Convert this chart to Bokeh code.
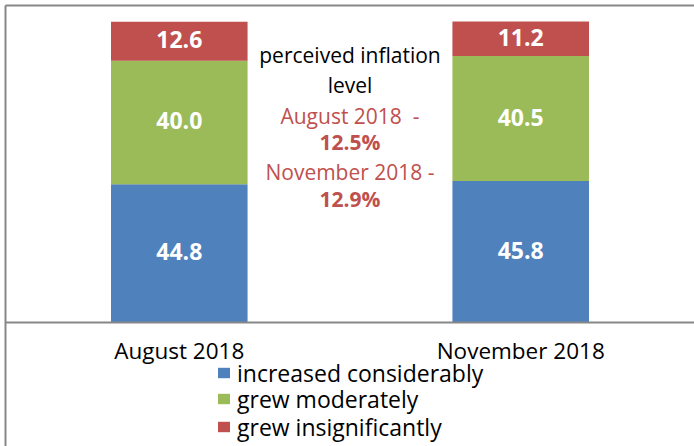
from bokeh.plotting import figure
from bokeh.models import (ColumnDataSource, FactorRange, Range1d, Legend, LegendItem,
                          Label, CategoricalAxis, FixedTicker, Span)
from bokeh.embed import file_html
from bokeh.resources import INLINE
from bokeh.core.properties import value

# ---- data ----
periods = ["August 2018", "November 2018"]
increased_considerably = [44.8, 45.8]
grew_moderately = [40.0, 40.5]
grew_insignificantly = [12.6, 11.2]
series_names = ["increased considerably", "grew moderately", "grew insignificantly"]
series_keys = ["inc", "mod", "ins"]
series_colors = ["#4F81BD", "#9BBB59", "#C0504D"]
note_lines = ["perceived inflation", "level", "August 2018\u00a0 -", "12.5%",
              "November 2018 -", "12.9%"]

# ---- styling / layout ----
FONT = "Open Sans"
GRAY = "#878787"
RED_TEXT = "#C0504D"
Y_START, Y_END = -40.17, 102.69
CAT_LABEL_Y = -9.0
note_y = [86.6, 76.8, 66.9, 58.4, 48.9, 40.1]
note_colors = ["black", "black", RED_TEXT, RED_TEXT, RED_TEXT, RED_TEXT]
note_styles = ["normal", "normal", "normal", "bold", "normal", "bold"]
legend_offsets = [(211, 57.5), (211, 31.5), (211, 3.5)]

source = ColumnDataSource(dict(period=periods, inc=increased_considerably,
                               mod=grew_moderately, ins=grew_insignificantly))

p = figure(x_range=FactorRange(*periods, range_padding=0.009),
           y_range=Range1d(Y_START, Y_END),
           width=694, height=446, output_backend="svg", toolbar_location=None,
           min_border_left=5, min_border_right=0, min_border_top=5, min_border_bottom=0,
           x_axis_location=None)
p.outline_line_color = None
p.grid.visible = False
p.background_fill_color = "white"
p.border_fill_color = "white"

renderers = p.vbar_stack(series_keys, x="period", width=0.4, source=source,
                         color=series_colors, line_color=None)

# category axis line (value 0) and category names
p.add_layout(Span(location=0, dimension="width", line_color=GRAY, line_width=2))
p.text(x=periods, y=[CAT_LABEL_Y] * len(periods), text=periods, text_color="black",
       text_font=value(FONT), text_font_size="22.5px", text_align="center",
       text_baseline="alphabetic")

# value labels centred in each segment
lab_x, lab_y, lab_t = [], [], []
series_vals = [increased_considerably, grew_moderately, grew_insignificantly]
for i, per in enumerate(periods):
    base = 0.0
    for vals in series_vals:
        v = vals[i]
        lab_x.append(per)
        lab_y.append(base + v / 2)
        lab_t.append(f"{v:.1f}")
        base += v
p.text(x=lab_x, y=lab_y, text=lab_t, text_color="white", text_font=value(FONT),
       text_font_style="bold", text_font_size="23px", text_align="center",
       text_baseline="middle", y_offset=-1.5)

# central note
for t, y, c, s in zip(note_lines, note_y, note_colors, note_styles):
    p.add_layout(Label(x=1.0, y=y, text=t, text_color=c, text_font=FONT,
                       text_font_style=s, text_font_size="21px", text_align="center",
                       text_baseline="alphabetic"))

# left / top border lines
p.yaxis.ticker = FixedTicker(ticks=[])
p.yaxis.axis_line_color = GRAY
p.yaxis.axis_line_width = 2
p.yaxis.major_tick_out = 0
p.yaxis.major_tick_in = 0
p.yaxis.minor_tick_out = 0
p.yaxis.minor_tick_in = 0
p.yaxis.major_label_standoff = 0

top_axis = CategoricalAxis(axis_line_color=GRAY, axis_line_width=2, major_tick_out=0,
                           major_tick_in=0, minor_tick_out=0, minor_tick_in=0,
                           major_label_standoff=0, major_label_text_font_size="0px",
                           major_label_text_alpha=0)
p.add_layout(top_axis, "above")

# one single-item legend per series so that the row spacing can match
for name, r, loc in zip(series_names, renderers, legend_offsets):
    leg = Legend(items=[LegendItem(label=name, renderers=[r])],
                 location=loc, orientation="vertical",
                 glyph_width=15, glyph_height=13, label_standoff=6,
                 label_text_font=FONT, label_text_font_size="23px",
                 label_text_color="black", label_height=22,
                 spacing=0, padding=0, margin=0, border_line_color=None,
                 background_fill_alpha=0)
    p.add_layout(leg)

open("out.html", "w").write(file_html(p, INLINE))
